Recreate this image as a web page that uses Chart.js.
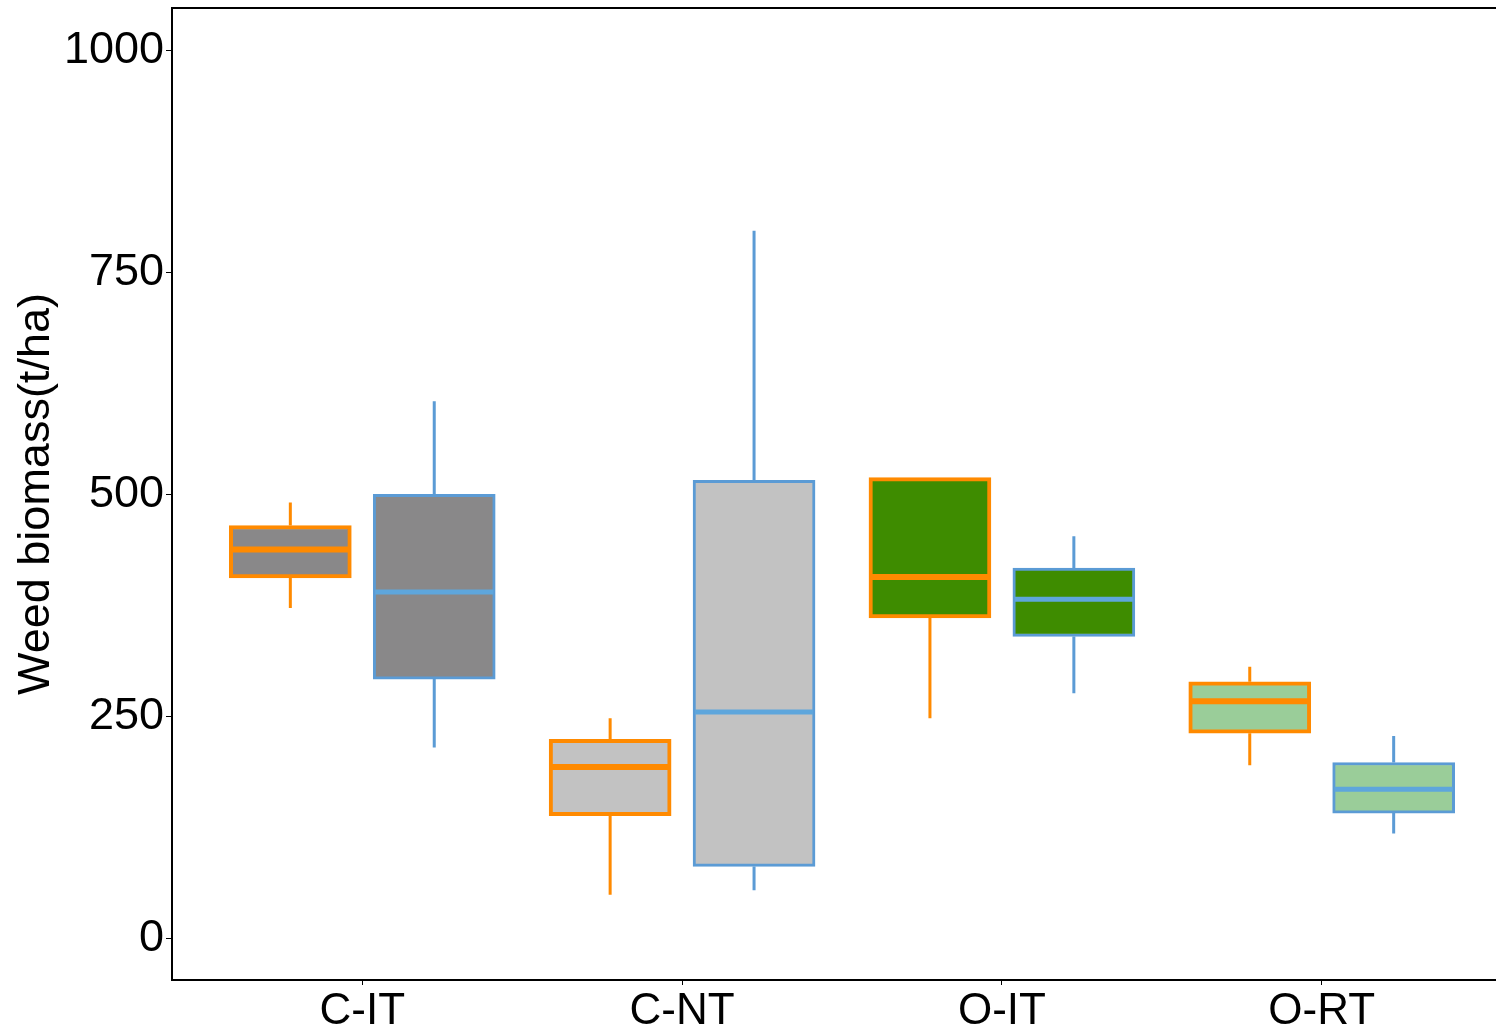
<!DOCTYPE html>
<html>
<head>
<meta charset="utf-8">
<script src="https://cdn.jsdelivr.net/npm/chart.js@4.4.1/dist/chart.umd.min.js"></script>
<style>
  html, body { margin: 0; padding: 0; background: #fff; overflow: hidden; }
  #wrap { width: 1512px; height: 1029px; position: relative; }
</style>
</head>
<body>
<div id="wrap"><canvas id="boxChart"></canvas></div>
<script>
// categories and y ticks
const categories = ['C-IT', 'C-NT', 'O-IT', 'O-RT'];
const yTicks = [0, 250, 500, 750, 1000];

// orange-edged boxes (first of each pair)
const aMin = [372, 49, 248, 195];
const aQ1  = [406, 138, 361, 231];
const aMed = [438, 193, 407, 267];
const aQ3  = [465, 224, 519, 289];
const aMax = [491, 248, 519, 306];

// blue-edged boxes (second of each pair)
const bMin = [215, 54, 276, 118];
const bQ1  = [292, 81, 340, 141];
const bMed = [390, 255, 382, 168];
const bQ3  = [500, 516, 417, 198];
const bMax = [605, 797, 453, 228];

// box fill per category
const fills = ['#898889', '#c2c2c2', '#3e8c00', '#9acd99'];

const ORANGE = '#ff8a00';
const BLUE = '#5b9bd5';
const FONT = "'Liberation Sans', Arial, sans-serif";

const SHIFT = 0.225;   // offset of each box from category centre
const HALF = 0.185;    // half box width in x units

function boxData(q1, q3, sign) {
    return categories.map((c, i) => ({ x: i + sign * SHIFT, y: [q1[i], q3[i]] }));
}
function whiskerData(lo, q1, q3, hi, sign) {
    const pts = [];
    categories.forEach((c, i) => {
        const cx = i + sign * SHIFT;
        pts.push({ x: cx, y: lo[i] }, { x: cx, y: q1[i] }, { x: cx, y: null });
        pts.push({ x: cx, y: q3[i] }, { x: cx, y: hi[i] }, { x: cx, y: null });
    });
    return pts;
}
function medianData(med, sign) {
    const pts = [];
    categories.forEach((c, i) => {
        const cx = i + sign * SHIFT;
        pts.push({ x: cx - HALF, y: med[i] }, { x: cx + HALF, y: med[i] }, { x: cx, y: null });
    });
    return pts;
}

const lineBase = { type: 'line', pointRadius: 0, tension: 0, spanGaps: false, fill: false };

// top frame line
const frameTop = {
    id: 'frameTop',
    afterDraw(chart) {
        const { ctx, chartArea } = chart;
        ctx.save();
        ctx.strokeStyle = '#000';
        ctx.lineWidth = 2;
        ctx.beginPath();
        ctx.moveTo(chartArea.left, chartArea.top);
        ctx.lineTo(chart.width, chartArea.top);
        ctx.stroke();
        ctx.restore();
    }
};

function noPad(scale) {
    scale.paddingTop = 0;
    scale.paddingBottom = 0;
    scale.paddingLeft = 0;
    scale.paddingRight = 0;
}

new Chart(document.getElementById('boxChart').getContext('2d'), {
    type: 'bar',
    data: {
        datasets: [
            { ...lineBase, data: medianData(aMed, -1), borderColor: ORANGE, borderWidth: 6 },
            { ...lineBase, data: medianData(bMed, 1), borderColor: '#5ea6dc', borderWidth: 5 },
            { type: 'bar', data: boxData(aQ1, aQ3, -1), backgroundColor: fills, borderColor: ORANGE,
              borderWidth: 4, borderSkipped: false, grouped: false, barThickness: 122 },
            { type: 'bar', data: boxData(bQ1, bQ3, 1), backgroundColor: fills, borderColor: BLUE,
              borderWidth: 3, borderSkipped: false, grouped: false, barThickness: 122 },
            { ...lineBase, data: whiskerData(aMin, aQ1, aQ3, aMax, -1), borderColor: ORANGE, borderWidth: 3 },
            { ...lineBase, data: whiskerData(bMin, bQ1, bQ3, bMax, 1), borderColor: BLUE, borderWidth: 3 }
        ]
    },
    options: {
        responsive: true,
        maintainAspectRatio: false,
        animation: false,
        layout: { padding: { top: 8, right: 0, left: 0, bottom: 0 } },
        plugins: { legend: { display: false }, tooltip: { enabled: false } },
        scales: {
            x: {
                type: 'linear',
                min: -0.595,
                max: 3.595,
                offset: false,
                afterBuildTicks: (scale) => { scale.ticks = categories.map((c, i) => ({ value: i })); },
                afterFit: (scale) => { scale.height = 49; noPad(scale); },
                ticks: {
                    callback: (v) => categories[v],
                    font: { family: FONT, size: 44 },
                    color: '#000',
                    padding: 0,
                    maxRotation: 0,
                    autoSkip: false
                },
                grid: { offset: false, drawOnChartArea: false, drawTicks: true, tickLength: 5, color: '#000', lineWidth: 1 },
                border: { display: true, color: '#000', width: 2 }
            },
            y: {
                min: -47,
                max: 1048,
                afterBuildTicks: (scale) => { scale.ticks = yTicks.map(v => ({ value: v })); },
                afterFit: (scale) => { scale.width = 172; noPad(scale); },
                ticks: {
                    callback: (v) => String(v),
                    font: { family: FONT, size: 45 },
                    color: '#000',
                    padding: 2
                },
                grid: { drawOnChartArea: false, drawTicks: true, tickLength: 6, color: '#000', lineWidth: 1 },
                border: { display: true, color: '#000', width: 2 },
                title: {
                    display: true,
                    text: 'Weed biomass(t/ha)',
                    font: { family: FONT, size: 45 },
                    color: '#000',
                    padding: { top: 10, bottom: 0 }
                }
            }
        }
    },
    plugins: [frameTop]
});
</script>
</body>
</html>
